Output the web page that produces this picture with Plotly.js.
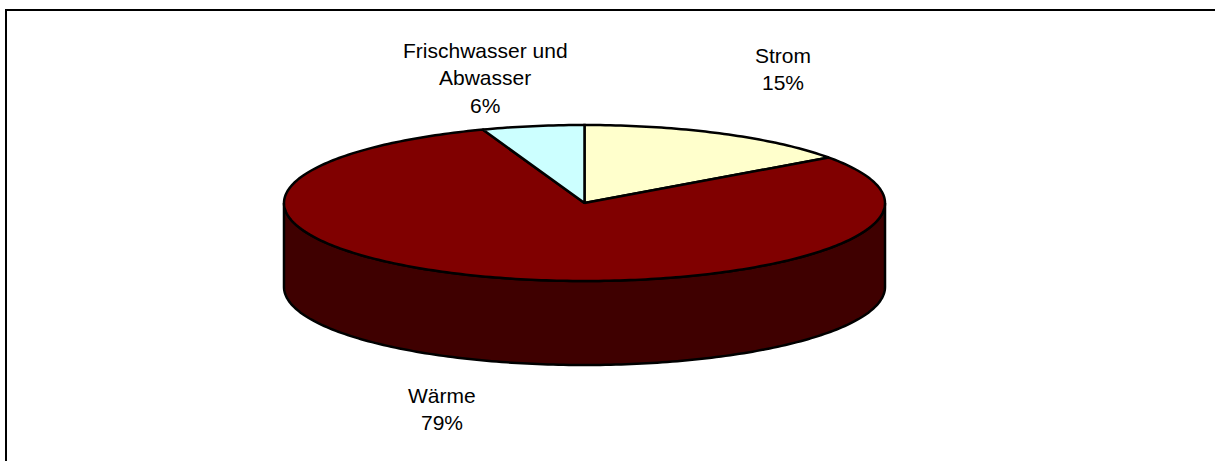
<!DOCTYPE html>
<html>
<head>
<meta charset="utf-8">
<script src="https://cdn.plot.ly/plotly-3.0.1.min.js"></script>
<style>html,body{margin:0;padding:0;background:#fff;overflow:hidden}#chart{width:1215px;height:461px}</style>
</head>
<body>
<div id="chart"></div>
<script>
// Data
const categories = ['Strom', 'Wärme', 'Frischwasser und<br>Abwasser'];
const shares = [15.1, 79.4, 5.5];
const sliceColors = ['#FFFFCC', '#800000', '#CCFFFF'];
const sideColors = ['#7F7F66', '#3F0000', '#668080'];
// label anchor: centre x and y of the first line
const labelX = [783, 442, 485];
const labelY = [55, 395, 50];

// Pie geometry in chart pixels
const cx = 584.5, cy = 203, rx = 300.5, ry = 78, depth = 84;
const lineH = 27.5;

const pt = (deg, dy) => {
  const t = deg * Math.PI / 180;
  return [cx + rx * Math.sin(t), cy - ry * Math.cos(t) + (dy || 0)];
};
const arc = (a, b, dy) => {
  const out = [];
  const n = Math.max(2, Math.ceil(Math.abs(b - a)));
  for (let i = 0; i <= n; i++) out.push(pt(a + (b - a) * i / n, dy));
  return out;
};

const traces = [];
const poly = (pts, fill) => traces.push({
  type: 'scatter', mode: 'lines', x: pts.map(p => p[0]), y: pts.map(p => p[1]),
  fill: 'toself', fillcolor: fill, line: {color: '#000', width: 2.5, simplify: false},
  hoverinfo: 'skip', showlegend: false
});

// start angles accumulated from the values
const total = shares.reduce((a, b) => a + b, 0);
let acc = 0;
const spans = shares.map(v => { const s = acc; acc += v / total * 360; return [s, acc]; });

// side walls: only the part of each slice facing the viewer (90..270 deg)
spans.forEach((s, i) => {
  const a = Math.max(s[0], 90), b = Math.min(s[1], 270);
  if (b > a) poly(arc(a, b, 0).concat(arc(b, a, depth)).concat([pt(a, 0)]), sideColors[i]);
});
// top faces
spans.forEach((s, i) => {
  poly([[cx, cy]].concat(arc(s[0], s[1], 0)).concat([[cx, cy]]), sliceColors[i]);
});

// labels: one annotation per line so the wide line pitch can be kept
const annotations = [];
categories.forEach((c, i) => {
  const lines = c.split('<br>').concat([Math.round(shares[i] / total * 100) + '%']);
  lines.forEach((txt, k) => annotations.push({
    x: labelX[i], y: labelY[i] + k * lineH, xref: 'x', yref: 'y', text: txt,
    showarrow: false, xanchor: 'center', yanchor: 'middle',
    font: {family: '"Liberation Sans", Arial, sans-serif', size: 21, color: '#000'}
  }));
});

const layout = {
  width: 1215, height: 461,
  margin: {l: 0, r: 0, t: 0, b: 0, pad: 0},
  paper_bgcolor: '#fff', plot_bgcolor: '#fff',
  showlegend: false,
  xaxis: {range: [0, 1215], visible: false, fixedrange: true},
  yaxis: {range: [461, 0], visible: false, fixedrange: true},
  annotations,
  shapes: [
    {type: 'line', xref: 'x', yref: 'y', x0: 6, y0: 10, x1: 1215, y1: 10, line: {color: '#000', width: 2}},
    {type: 'line', xref: 'x', yref: 'y', x0: 6, y0: 9, x1: 6, y1: 461, line: {color: '#000', width: 2}}
  ]
};
Plotly.newPlot('chart', traces, layout, {displayModeBar: false, staticPlot: true});
</script>
</body>
</html>
